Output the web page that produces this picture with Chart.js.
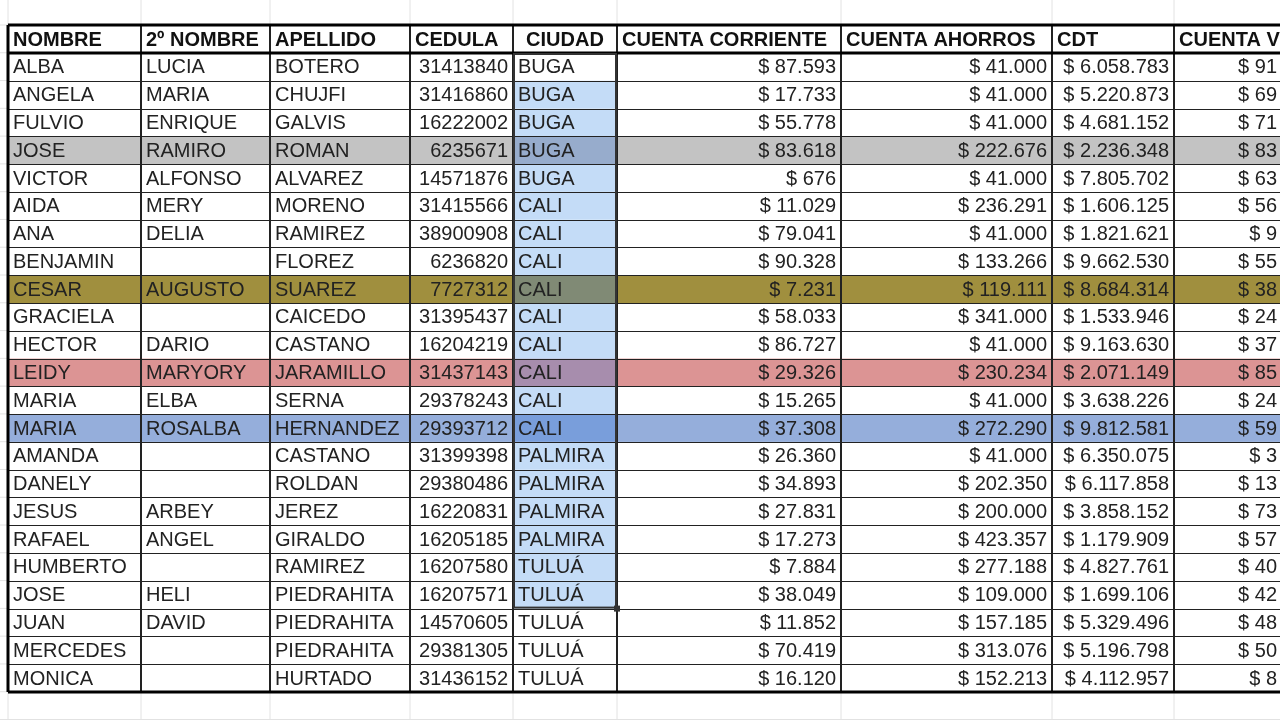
<!DOCTYPE html>
<html><head><meta charset="utf-8">
<script src="https://cdn.jsdelivr.net/npm/chart.js@4"></script>
<style>html,body{margin:0;padding:0;background:#fff;overflow:hidden}#w{width:1280px;height:720px}</style>
</head><body><div id="w"><canvas id="c"></canvas></div>
<script>
const headers = ["NOMBRE","2º NOMBRE","APELLIDO","CEDULA","CIUDAD","CUENTA CORRIENTE","CUENTA AHORROS","CDT","CUENTA V"];
const nombres = ["ALBA","ANGELA","FULVIO","JOSE","VICTOR","AIDA","ANA","BENJAMIN","CESAR","GRACIELA","HECTOR","LEIDY","MARIA","MARIA","AMANDA","DANELY","JESUS","RAFAEL","HUMBERTO","JOSE","JUAN","MERCEDES","MONICA"];
const segundos = ["LUCIA","MARIA","ENRIQUE","RAMIRO","ALFONSO","MERY","DELIA","","AUGUSTO","","DARIO","MARYORY","ELBA","ROSALBA","","","ARBEY","ANGEL","","HELI","DAVID","",""];
const apellidos = ["BOTERO","CHUJFI","GALVIS","ROMAN","ALVAREZ","MORENO","RAMIREZ","FLOREZ","SUAREZ","CAICEDO","CASTANO","JARAMILLO","SERNA","HERNANDEZ","CASTANO","ROLDAN","JEREZ","GIRALDO","RAMIREZ","PIEDRAHITA","PIEDRAHITA","PIEDRAHITA","HURTADO"];
const cedulas = ["31413840","31416860","16222002","6235671","14571876","31415566","38900908","6236820","7727312","31395437","16204219","31437143","29378243","29393712","31399398","29380486","16220831","16205185","16207580","16207571","14570605","29381305","31436152"];
const ciudades = ["BUGA","BUGA","BUGA","BUGA","BUGA","CALI","CALI","CALI","CALI","CALI","CALI","CALI","CALI","CALI","PALMIRA","PALMIRA","PALMIRA","PALMIRA","TULUÁ","TULUÁ","TULUÁ","TULUÁ","TULUÁ"];
const corriente = ["$ 87.593","$ 17.733","$ 55.778","$ 83.618","$ 676","$ 11.029","$ 79.041","$ 90.328","$ 7.231","$ 58.033","$ 86.727","$ 29.326","$ 15.265","$ 37.308","$ 26.360","$ 34.893","$ 27.831","$ 17.273","$ 7.884","$ 38.049","$ 11.852","$ 70.419","$ 16.120"];
const ahorros = ["$ 41.000","$ 41.000","$ 41.000","$ 222.676","$ 41.000","$ 236.291","$ 41.000","$ 133.266","$ 119.111","$ 341.000","$ 41.000","$ 230.234","$ 41.000","$ 272.290","$ 41.000","$ 202.350","$ 200.000","$ 423.357","$ 277.188","$ 109.000","$ 157.185","$ 313.076","$ 152.213"];
const cdt = ["$ 6.058.783","$ 5.220.873","$ 4.681.152","$ 2.236.348","$ 7.805.702","$ 1.606.125","$ 1.821.621","$ 9.662.530","$ 8.684.314","$ 1.533.946","$ 9.163.630","$ 2.071.149","$ 3.638.226","$ 9.812.581","$ 6.350.075","$ 6.117.858","$ 3.858.152","$ 1.179.909","$ 4.827.761","$ 1.699.106","$ 5.329.496","$ 5.196.798","$ 4.112.957"];
const cuentaV = ["$ 91","$ 69","$ 71","$ 83","$ 63","$ 56","$ 9","$ 55","$ 38","$ 24","$ 37","$ 85","$ 24","$ 59","$ 3","$ 13","$ 73","$ 57","$ 40","$ 42","$ 48","$ 50","$ 8"];
const highlights = {3:"#c3c3c3",8:"#a08f3e",11:"#dc9494",13:"#95aedb"};

// layout
const colEdges = [8,141,270,410,513,617,841,1052,1174,1400];
const align = ["l","l","l","r","l","r","r","r","r"];
const headAlign = ["l","l","l","l","c","l","l","l","l"];
const top0 = 25, headH = 28, rowH = 27.78;

const tablePlugin = {
  id:'table',
  afterDraw(chart){
    const ctx = chart.ctx, xs = chart.scales.x, ys = chart.scales.y;
    const X = v=>xs.getPixelForValue(v), Y = v=>ys.getPixelForValue(v);
    const cols = [nombres,segundos,apellidos,cedulas,ciudades,corriente,ahorros,cdt,cuentaV];
    const n = nombres.length;
    const bottom = top0+headH+n*rowH;
    ctx.save();
    // sheet gridlines
    ctx.strokeStyle="#e2e2e2"; ctx.lineWidth=1;
    for(let y=top0-rowH; y<730; y+=rowH){ctx.beginPath();ctx.moveTo(0,Y(y));ctx.lineTo(1280,Y(y));ctx.stroke();}
    colEdges.forEach(x=>{ctx.beginPath();ctx.moveTo(X(x),0);ctx.lineTo(X(x),720);ctx.stroke();});
    ctx.fillStyle="#fff"; ctx.fillRect(X(colEdges[0]),Y(top0),1300,Y(bottom)-Y(top0));
    // highlights
    for(let r=0;r<n;r++){
      const y0=top0+headH+r*rowH;
      if(highlights[r]){ctx.fillStyle=highlights[r];ctx.fillRect(X(colEdges[0]),Y(y0),1300,rowH);}
    }
    // selection ciudad rows 1..19
    for(let r=1;r<=19;r++){
      const y0=top0+headH+r*rowH;
      ctx.fillStyle= highlights[r] ? "rgba(70,130,220,0.35)" : "#c4dcf7";
      ctx.fillRect(X(colEdges[4]),Y(y0),colEdges[5]-colEdges[4],rowH);
    }
    // thin cell lines
    ctx.strokeStyle="#222"; ctx.lineWidth=1;
    for(let r=1;r<n;r++){const y=Math.round(top0+headH+r*rowH)+0.5;ctx.beginPath();ctx.moveTo(X(colEdges[0]),y);ctx.lineTo(1280,y);ctx.stroke();}
    ctx.lineWidth=2;
    colEdges.slice(1,-1).forEach(x=>{ctx.beginPath();ctx.moveTo(X(x),Y(top0));ctx.lineTo(X(x),Y(bottom));ctx.stroke();});
    // thick borders
    ctx.strokeStyle="#000"; ctx.lineWidth=3;
    [top0,top0+headH,bottom].forEach(y=>{ctx.beginPath();ctx.moveTo(X(colEdges[0]),Y(y));ctx.lineTo(1280,Y(y));ctx.stroke();});
    ctx.beginPath();ctx.moveTo(X(colEdges[0]),Y(top0));ctx.lineTo(X(colEdges[0]),Y(bottom));ctx.stroke();
    // selection border
    ctx.strokeStyle="#333"; ctx.lineWidth=2;
    ctx.strokeRect(X(colEdges[4])+1,Y(top0+headH)+1,colEdges[5]-colEdges[4]-2,20*rowH-2);
    ctx.fillStyle="#333"; ctx.fillRect(X(colEdges[5])-3,Y(top0+headH+20*rowH)-3,6,6);
    // text
    ctx.textBaseline="middle";
    ctx.font="bold 20px 'Liberation Sans', Arial, sans-serif"; ctx.fillStyle="#111";
    headers.forEach((h,i)=>{
      const a=headAlign[i], x0=colEdges[i], x1=colEdges[i+1];
      ctx.textAlign = a==="c"?"center":"left";
      ctx.fillText(h, a==="c"?(x0+x1)/2:x0+5, Y(top0+headH/2+1));
    });
    ctx.font="20px 'Liberation Sans', Arial, sans-serif";
    for(let r=0;r<n;r++){
      const yc=Y(top0+headH+r*rowH+rowH/2+1);
      cols.forEach((col,i)=>{
        const x0=colEdges[i], x1=i===8?1282:colEdges[i+1];
        ctx.fillStyle="#222";
        if(align[i]==="r"){ctx.textAlign="right";ctx.fillText(col[r],x1-5,yc);}
        else{ctx.textAlign="left";ctx.fillText(col[r],x0+5,yc);}
      });
    }
    ctx.restore();
  }
};

new Chart(document.getElementById('c'),{
  type:'scatter',
  data:{datasets:[{data:[],showLine:false}]},
  options:{
    responsive:true,maintainAspectRatio:false,animation:false,
    layout:{padding:0},
    plugins:{legend:{display:false},tooltip:{enabled:false}},
    scales:{
      x:{type:'linear',min:0,max:1280,display:false},
      y:{type:'linear',min:0,max:720,reverse:true,display:false}
    }
  },
  plugins:[tablePlugin]
});
</script></body></html>
